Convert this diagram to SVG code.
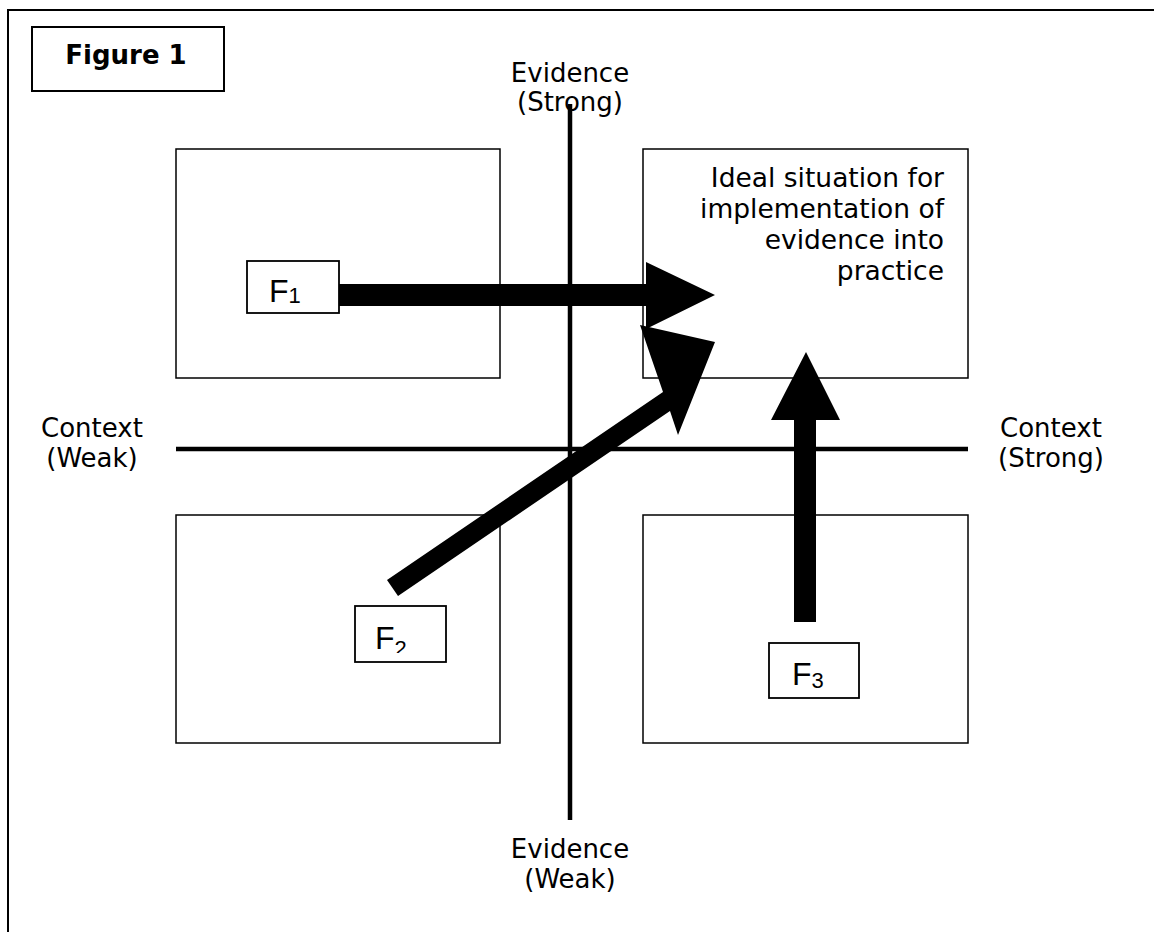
<svg xmlns="http://www.w3.org/2000/svg" width="1154" height="932" viewBox="0 0 1154 932">
<style>
.lbl{font-family:"DejaVu Sans",Verdana,sans-serif;font-size:26px;fill:#000}
.ideal{font-size:26.5px}
.fig{font-family:"DejaVu Sans",Verdana,sans-serif;font-size:26px;font-weight:bold;fill:#000}
.f{font-family:"Liberation Sans",Arial,sans-serif;font-size:32px;fill:#000}
.sub{font-size:22px}
.quad{fill:none;stroke:#000;stroke-width:1.5}
.fbox{fill:#fff;stroke:#000;stroke-width:1.8}
.axis{stroke:#000;stroke-width:4.5}
.arrow{fill:#000}
</style>
<defs>
<clipPath id="c2"><rect x="356" y="607" width="89" height="46"/></clipPath>
<clipPath id="c3"><rect x="770" y="644" width="88" height="44"/></clipPath>
</defs>
<rect width="1154" height="932" fill="#fff"/>
<g id="frame">
<path d="M8,932 V10 H1154" fill="none" stroke="#000" stroke-width="2"/>
</g>
<g id="figure-label">
<rect x="32" y="27" width="192" height="64" fill="#fff" stroke="#000" stroke-width="2"/>
<text class="fig" x="126" y="64" text-anchor="middle">Figure 1</text>
</g>
<g id="quadrant-tl"><rect class="quad" x="176" y="149" width="324" height="229"/></g>
<g id="quadrant-tr"><rect class="quad" x="643" y="149" width="325" height="229"/>
<text class="lbl ideal" text-anchor="end"><tspan x="944" y="187">Ideal situation for</tspan><tspan x="944" y="218">implementation of</tspan><tspan x="944" y="249">evidence into</tspan><tspan x="944" y="280">practice</tspan></text>
</g>
<g id="quadrant-bl"><rect class="quad" x="176" y="515" width="324" height="228"/></g>
<g id="quadrant-br"><rect class="quad" x="643" y="515" width="325" height="228"/></g>
<g id="axes">
<line class="axis" x1="570" y1="104" x2="570" y2="820"/>
<line class="axis" x1="176" y1="449" x2="968" y2="449"/>
</g>
<g id="axis-labels">
<text class="lbl" text-anchor="middle"><tspan x="570" y="82">Evidence</tspan><tspan x="570" y="111">(Strong)</tspan></text>
<text class="lbl" text-anchor="middle"><tspan x="570" y="858">Evidence</tspan><tspan x="570" y="888">(Weak)</tspan></text>
<text class="lbl" text-anchor="middle"><tspan x="92" y="437">Context</tspan><tspan x="92" y="467">(Weak)</tspan></text>
<text class="lbl" text-anchor="middle"><tspan x="1051" y="437">Context</tspan><tspan x="1051" y="467">(Strong)</tspan></text>
</g>
<g id="connectors">
<path class="arrow" d="M339,284 H646 V262 L715,295 L646,329 V306 H339 Z"/>
<path class="arrow" d="M387,580 L663,392 L640,325 L715,342 L678,435 L670,411 L398,596 Z"/>
<path class="arrow" d="M794,622 V420 H771 L806,352 L840,420 H816 V622 Z"/>
</g>
<g id="node-f1">
<rect class="fbox" x="247" y="261" width="92" height="52"/>
<text class="f" x="269" y="302">F<tspan class="sub" dy="1">1</tspan></text>
</g>
<g id="node-f2">
<rect class="fbox" x="355" y="606" width="91" height="56"/>
<text class="f" x="375" y="649" clip-path="url(#c2)">F<tspan class="sub" dy="7">2</tspan></text>
</g>
<g id="node-f3">
<rect class="fbox" x="769" y="643" width="90" height="55"/>
<text class="f" x="792" y="685" clip-path="url(#c3)">F<tspan class="sub" dy="3">3</tspan></text>
</g>
</svg>
